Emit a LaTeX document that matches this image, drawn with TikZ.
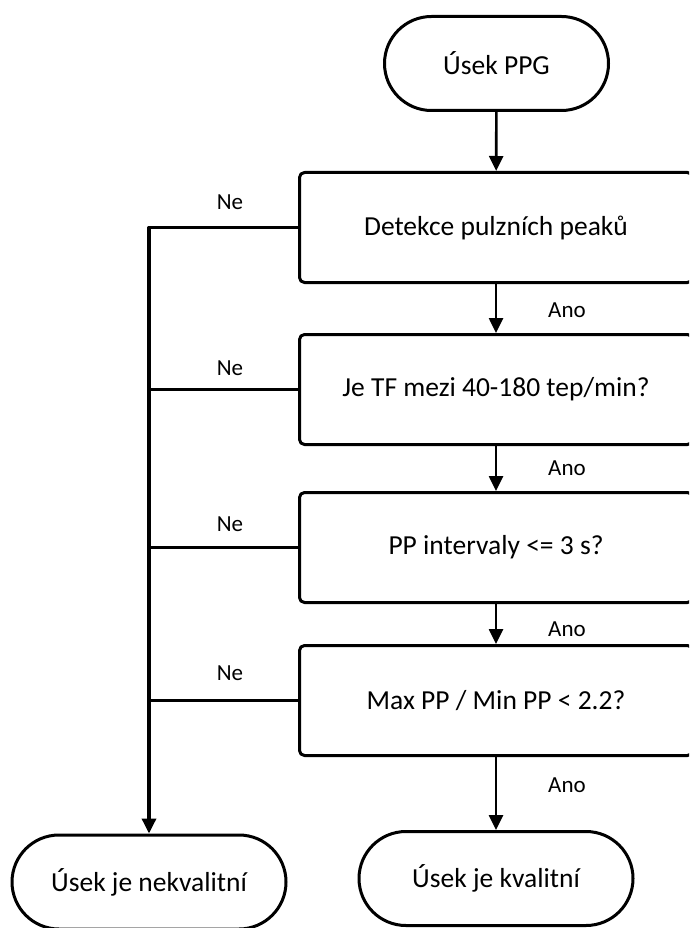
\documentclass[tikz,border=0pt]{standalone}
\usepackage{fontspec}
\setmainfont{Carlito}
\usetikzlibrary{arrows.meta}

\begin{document}
\begin{tikzpicture}[x=1pt, y=-1pt, font=\fontsize{27.5}{33}\selectfont, line join=round, >={Triangle[length=15pt,width=14pt]},
    term/.style={draw, line width=3pt, rounded corners=47pt, minimum width=274pt, minimum height=94pt, inner sep=0pt},
    stepbox/.style={draw, line width=3pt, rounded corners=5pt, minimum width=393pt, minimum height=110pt, inner sep=0pt},
    flow/.style={line width=2.6pt},
    lbl/.style={font=\fontsize{23}{27}\selectfont}]
    \useasboundingbox (0,0) rectangle (689,928);
    \clip (0,0) rectangle (689,928);
    \node[term, minimum width=224pt] (ppg) at (496.5,63.5) {Úsek PPG};
    \node[stepbox] (peaks) at (496,227.5) {Detekce pulzních peaků};
    \node[stepbox] (tf) at (496,389.5) {Je TF mezi 40-180 tep/min?};
    \node[stepbox] (pp) at (496,547.5) {PP intervaly <= 3 s?};
    \node[stepbox] (ratio) at (496,700.5) {Max PP / Min PP < 2.2?};
    \node[term] (bad) at (149,882) {Úsek je nekvalitní};
    \node[term] (good) at (496,878.5) {Úsek je kvalitní};
    % ano
    \draw[flow, ->] (ppg) -- (peaks);
    \foreach \a/\b in {peaks/tf, tf/pp, pp/ratio, ratio/good}{
        \draw[flow, ->] (\a) -- (\b);
    }
    % ne
    \draw[flow, line width=3.4pt, ->] (peaks.west) -| (bad.north);
    \foreach \n in {tf, pp, ratio}{
        \draw[flow] (\n.west) -- (\n.west -| bad.north);
    }
    \foreach \i/\y in {1/202, 2/368, 3/524, 4/673}{
        \node[lbl] (ne\i) at (230,\y) {Ne};
    }
    \foreach \i/\y in {1/310, 2/468, 3/629, 4/785}{
        \node[lbl] (ano\i) at (567,\y) {Ano};
    }
\end{tikzpicture}
\end{document}
